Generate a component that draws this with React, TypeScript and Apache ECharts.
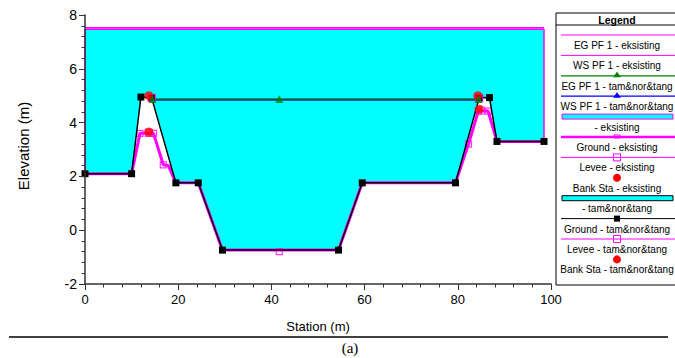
import React, { useEffect, useRef } from "react";
import * as echarts from "echarts";

// ---- data (station m, elevation m) ----
const groundTam: [number, number][] = [
  [0, 2.1], [10, 2.1], [12, 4.95], [14.3, 4.92], [19.5, 1.76], [24.3, 1.76],
  [29.5, -0.74], [54.4, -0.74], [59.5, 1.76], [79.5, 1.76], [84.6, 4.92],
  [86.8, 4.93], [88.4, 3.3], [98.5, 3.3],
];
const groundEx: [number, number][] = [
  [0, 2.1], [10, 2.1], [11.8, 3.6], [14.7, 3.6], [16.8, 2.43], [17.9, 2.4],
  [19.5, 1.76], [24.3, 1.76], [29.5, -0.74], [54.4, -0.74], [59.5, 1.76],
  [79.5, 1.76], [82.3, 3.2], [84.4, 4.43], [86.5, 4.43], [88.4, 3.3], [98.5, 3.3],
];
const groundExMarks: [number, number][] = [
  [11.8, 3.6], [14.7, 3.6], [16.8, 2.43], [41.7, -0.8], [82.3, 3.2], [84.4, 4.43], [86.5, 4.43],
];
const egEx: [number, number][] = [[0, 7.53], [98.5, 7.53]];
const wsEx: [number, number][] = [[0, 2.1], [0, 7.47], [98.5, 7.47], [98.5, 3.3]];
const wsExTop: [number, number][] = [[0, 7.47], [98.5, 7.47]];
const egTam: [number, number][] = [[14.3, 4.88], [84.5, 4.88]];
const egTamMarks: [number, number][] = [[14.5, 4.88], [41.7, 4.88], [84.5, 4.88]];
const wsTam: [number, number][] = [[14.3, 4.85], [84.5, 4.85]];
const leveeEx: [number, number][] = [[13.7, 3.62], [85, 4.45]];
const leveeTam: [number, number][] = [[14.3, 4.92], [84.6, 4.92]];
const bankEx: [number, number][] = [[13.7, 3.65], [84.6, 4.5]];
const bankTam: [number, number][] = [[13.7, 5.0], [84.3, 5.0]];

const xTicks = { min: 0, max: 100, interval: 20 };
const yTicks = { min: -2, max: 8, interval: 2 };

const legendLabels = [
  "EG PF 1 - eksisting",
  "WS PF 1 - eksisting",
  "EG PF 1 - tam&nor&tang",
  "WS PF 1 - tam&nor&tang",
  "- eksisting",
  "Ground - eksisting",
  "Levee - eksisting",
  "Bank Sta - eksisting",
  "- tam&nor&tang",
  "Ground - tam&nor&tang",
  "Levee - tam&nor&tang",
  "Bank Sta - tam&nor&tang",
];
const legendKinds = [
  "magentaLine", "magentaLine", "greenTri", "blueTri", "cyanMagenta", "groundEx",
  "leveeSq", "redDot", "cyanBlack", "blackSq", "leveeSq", "redDot",
];

const MAG = "#ff00ff";
const CYAN = "#00ffff";
const GREEN = "#008000";
const BLUE = "#1a2aa8";
const FONT = "Liberation Sans, Arial, sans-serif";

function buildLegend() {
  const L = 556, T = 13, W = 132, H = 272, CX = 617;
  const ch: any[] = [];
  ch.push({ type: "rect", shape: { x: L, y: T, width: W, height: H }, style: { fill: "#fff", stroke: "#000", lineWidth: 1 } });
  ch.push({ type: "line", shape: { x1: L, y1: 25, x2: L + W, y2: 25 }, style: { stroke: "#000", lineWidth: 1 } });
  ch.push({ type: "text", x: CX, y: 19.5, style: { text: "Legend", font: `bold 10.5px ${FONT}`, fill: "#000", align: "center", verticalAlign: "middle", textAlign: "center", textVerticalAlign: "middle" } });
  const x1 = 561, x2 = L + W;
  legendLabels.forEach((lab, i) => {
    const sy = 35 + 20.4 * i;
    const ty = 45.4 + 20.4 * i;
    const k = legendKinds[i];
    const line = (c: string, w: number) => ch.push({ type: "line", shape: { x1, y1: sy, x2, y2: sy }, style: { stroke: c, lineWidth: w } });
    if (k === "magentaLine") line(MAG, 1);
    if (k === "greenTri" || k === "blueTri") {
      const c = k === "greenTri" ? GREEN : "#0000ff";
      line(c, 1.2);
      ch.push({ type: "polygon", shape: { points: [[CX, sy - 4], [CX - 4, sy + 1.5], [CX + 4, sy + 1.5]] }, style: { fill: c } });
    }
    if (k === "cyanMagenta" || k === "cyanBlack") {
      ch.push({ type: "rect", shape: { x: 562, y: sy - 2.5, width: 111, height: 5 }, style: { fill: CYAN, stroke: k === "cyanMagenta" ? MAG : "#000", lineWidth: 1 } });
    }
    if (k === "groundEx") {
      line(MAG, 2.5);
      ch.push({ type: "rect", shape: { x: CX - 3, y: sy - 2, width: 6, height: 3 }, style: { fill: "none", stroke: MAG, lineWidth: 1 } });
    }
    if (k === "leveeSq") {
      line(MAG, 1);
      ch.push({ type: "rect", shape: { x: CX - 3.5, y: sy - 3.5, width: 7, height: 7 }, style: { fill: "none", stroke: MAG, lineWidth: 1 } });
    }
    if (k === "redDot") ch.push({ type: "circle", shape: { cx: CX, cy: sy, r: 4 }, style: { fill: "#ff0000" } });
    if (k === "blackSq") {
      line("#000", 1);
      ch.push({ type: "rect", shape: { x: CX - 3, y: sy - 3, width: 6, height: 6 }, style: { fill: "#000" } });
    }
    ch.push({ type: "text", x: CX, y: ty, style: { text: lab, font: `10px ${FONT}`, fill: "#000", align: "center", verticalAlign: "middle", textAlign: "center", textVerticalAlign: "middle" } });
  });
  return { type: "group", z: 100, children: ch };
}

export default function App() {
  const ref = useRef<HTMLDivElement>(null);
  useEffect(() => {
    if (!ref.current) return;
    const chart = echarts.init(ref.current, null, { renderer: "svg" });
    const lineS = (name: string, data: any, color: string, width: number, z: number, extra: any = {}) => ({
      name, type: "line", data, z, symbol: "none", silent: true,
      lineStyle: { color, width }, itemStyle: { color }, ...extra,
    });
    const scat = (name: string, data: any, symbol: string, size: number, color: string, z: number, hollow = false) => ({
      name, type: "scatter", data, symbol, symbolSize: size, z, silent: true,
      itemStyle: hollow ? { color: "transparent", borderColor: color, borderWidth: 1.2 } : { color },
    });
    chart.setOption({
      animation: false,
      backgroundColor: "#fff",
      grid: { left: 85, right: 124, top: 15, bottom: 74 },
      xAxis: {
        type: "value", ...xTicks, z: 10,
        axisLine: { onZero: false, lineStyle: { color: "#333", width: 1.5 } },
        axisTick: { inside: false, length: 6, lineStyle: { color: "#333" } },
        minorTick: { show: true, splitNumber: 5, length: 3.5, lineStyle: { color: "#333" } },
        splitLine: { show: false },
        axisLabel: { color: "#000", fontSize: 13, fontFamily: FONT, margin: 9 },
      },
      yAxis: {
        type: "value", ...yTicks, z: 10,
        axisLine: { show: true, onZero: false, lineStyle: { color: "#333", width: 1.5 } },
        axisTick: { show: true, inside: false, length: 6, lineStyle: { color: "#333" } },
        minorTick: { show: true, splitNumber: 5, length: 3.5, lineStyle: { color: "#333" } },
        splitLine: { show: false },
        axisLabel: { color: "#000", fontSize: 14, fontFamily: FONT, margin: 8 },
      },
      series: [
        lineS("wsFill", wsExTop, CYAN, 0, 1, { areaStyle: { color: CYAN, opacity: 1, origin: "start" } }),
        lineS("groundFill", groundTam, "#fff", 0, 2, { areaStyle: { color: "#fff", opacity: 1, origin: "start" } }),
        lineS("EG PF 1 - eksisting", egEx, MAG, 1.5, 3),
        lineS("WS PF 1 - eksisting", wsEx, MAG, 1.5, 3),
        lineS("Ground - eksisting", groundEx, MAG, 3, 4),
        scat("groundExMarks", groundExMarks, "rect", 6, MAG, 4, true),
        lineS("WS PF 1 - tam", wsTam, BLUE, 2, 5),
        lineS("EG PF 1 - tam", egTam, GREEN, 1, 5),
        lineS("Ground - tam", groundTam, "#000", 1.5, 6, { symbol: "rect", symbolSize: 7, showSymbol: true, itemStyle: { color: "#000" } }),
        scat("Levee - eksisting", leveeEx, "rect", 7, MAG, 7, true),
        scat("Levee - tam", leveeTam, "rect", 7, MAG, 7, true),
        scat("Bank Sta - eksisting", bankEx, "circle", 9, "#ff0000", 8),
        scat("Bank Sta - tam", bankTam, "circle", 9, "#ff0000", 8),
        scat("egTamMarks", egTamMarks, "triangle", 8, GREEN, 9),
      ],
      graphic: [
        buildLegend(),
        { type: "text", x: 23, y: 146, rotation: Math.PI / 2, style: { text: "Elevation (m)", font: `15px ${FONT}`, fill: "#000", align: "center", verticalAlign: "middle", textAlign: "center", textVerticalAlign: "middle" } },
        { type: "text", x: 318, y: 326, style: { text: "Station (m)", font: `13px ${FONT}`, fill: "#000", align: "center", verticalAlign: "middle", textAlign: "center", textVerticalAlign: "middle" } },
        { type: "line", shape: { x1: 9, y1: 337, x2: 668, y2: 337 }, style: { stroke: "#000", lineWidth: 1.5 } },
        { type: "text", x: 350, y: 348, style: { text: "(a)", font: `15px Liberation Serif, serif`, fill: "#000", align: "center", verticalAlign: "middle", textAlign: "center", textVerticalAlign: "middle" } },
      ],
    });
    return () => chart.dispose();
  }, []);
  return <div ref={ref} style={{ position: "absolute", left: 0, top: 0, width: 675, height: 358 }} />;
}
